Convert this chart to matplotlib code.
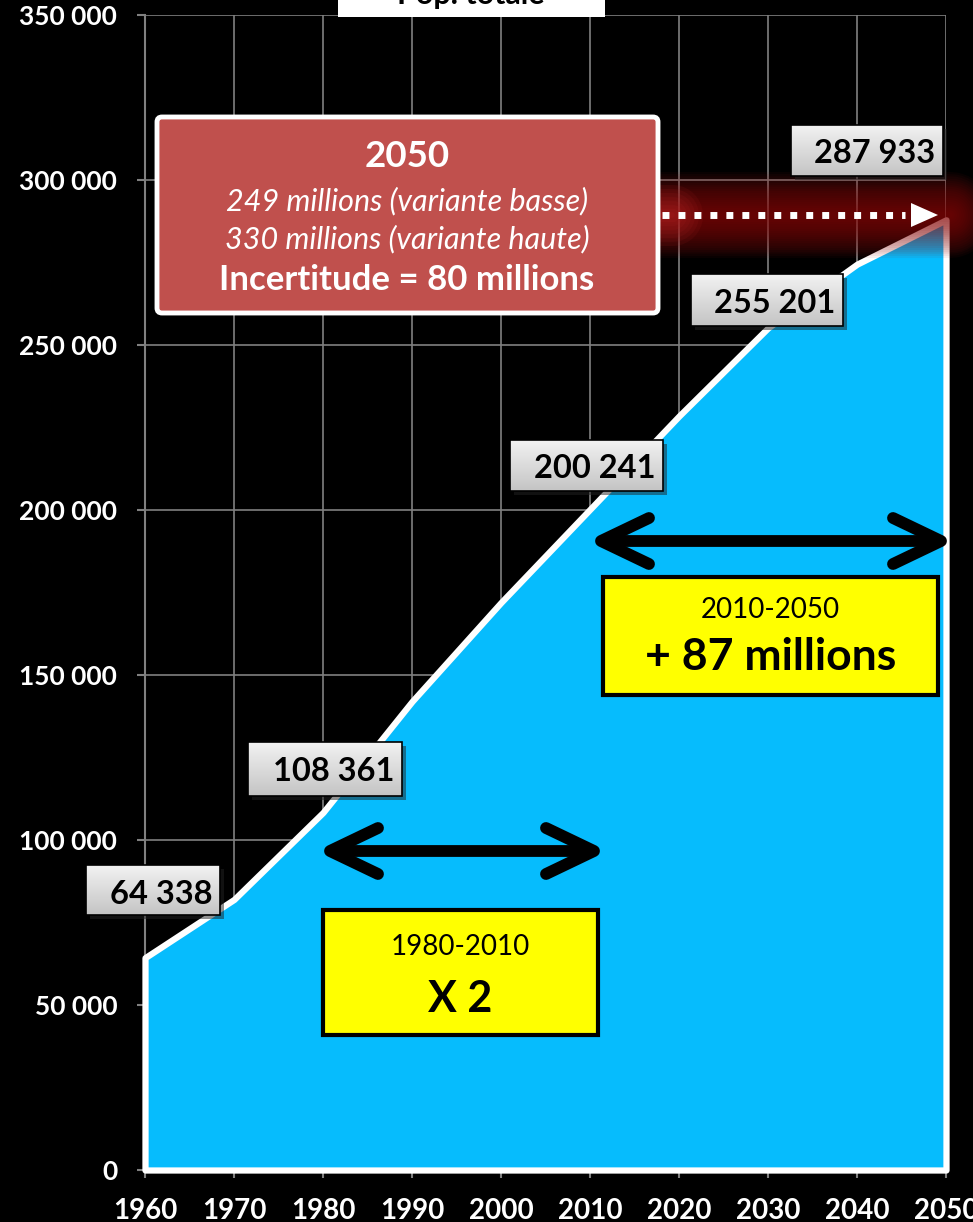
import matplotlib
matplotlib.use("Agg")
import numpy as np
import matplotlib.pyplot as plt
from matplotlib.patches import Rectangle, FancyBboxPatch, Polygon
from matplotlib.colors import LinearSegmentedColormap
from matplotlib.ticker import FuncFormatter

plt.rcParams["font.family"] = ["Lato", "DejaVu Sans"]

# Population totale (milliers)
years = [1960, 1970, 1980, 1990, 2000, 2010, 2020, 2030, 2040, 2050]
pop = [64338, 82000, 108361, 142000, 172000, 200241, 228500, 255201, 274500, 287933]
labelled_years = [1960, 1980, 2010, 2030, 2050]
x_ticks = list(range(1960, 2051, 10))
y_ticks = list(range(0, 350001, 50000))

W, H = 973, 1222
BLUE = "#06BCFD"
GRID = "#808080"

fig = plt.figure(figsize=(W / 100, H / 100), dpi=100, facecolor="black")
ax = fig.add_axes([145 / W, 1 - 1170 / H, (946 - 145) / W, (1170 - 15) / H])
ax.set_facecolor("black")
ax.set_xlim(1960, 2050)
ax.set_ylim(0, 350000)

ax.fill_between(years, pop, 0, facecolor=BLUE, edgecolor="white",
                linewidth=4.5, zorder=3, clip_on=False)

ax.set_xticks(x_ticks)
ax.set_yticks(y_ticks)
ax.yaxis.set_major_formatter(FuncFormatter(lambda v, _: f"{int(v):,}".replace(",", " ")))
ax.grid(True, color=GRID, linewidth=1.2, zorder=0)
ax.set_axisbelow(True)
for side in ("top", "right"):
    ax.spines[side].set_visible(False)
for side in ("left", "bottom"):
    ax.spines[side].set_color(GRID)
    ax.spines[side].set_linewidth(1.5)
ax.tick_params(axis="both", colors=GRID, direction="out", length=6, width=1.5)
ax.tick_params(axis="y", labelcolor="white", labelsize=19, pad=14)
ax.tick_params(axis="x", labelcolor="white", labelsize=20, pad=14)
for lbl in ax.get_xticklabels() + ax.get_yticklabels():
    lbl.set_fontweight("bold")

# calque d'annotations en pixels (origine en haut a gauche)
ov = fig.add_axes([0, 0, 1, 1], zorder=5)
ov.axis("off")
ov.patch.set_alpha(0)

# titre tronque
ov.add_patch(Rectangle((338, -40), 267, 57, facecolor="white", edgecolor="none"))
ov.text(471, 4, "Pop. totale", ha="center", va="baseline", fontsize=22,
        fontweight="bold", color="black")

# etiquettes de valeurs (degrade gris)
grey = LinearSegmentedColormap.from_list("grey", ["#F2F2F2", "#C4C4C4"])
grad = np.linspace(0, 1, 64).reshape(-1, 1)
label_boxes = {
    1960: (86, 865, 220, 915, 904),
    1980: (248, 742, 402, 796, 781),
    2010: (510, 440, 663, 491, 478),
    2030: (691, 274, 843, 326, 313),
    2050: (791, 125, 943, 176, 163),
}
for yr in labelled_years:
    x0, y0, x1, y1, base = label_boxes[yr]
    val = pop[years.index(yr)]
    ov.add_patch(Rectangle((x0 + 4, y0 + 4), x1 - x0, y1 - y0, facecolor="#222222",
                           edgecolor="none", alpha=0.5, zorder=2))
    ov.imshow(grad, cmap=grey, aspect="auto", extent=(x0, x1, y1, y0),
              interpolation="bilinear", zorder=2.5)
    ov.add_patch(Rectangle((x0, y0), x1 - x0, y1 - y0, facecolor="none",
                           edgecolor="black", linewidth=1.2, zorder=3))
    ov.text(x1 - 8, base, f"{val:,}".replace(",", " "), ha="right", va="baseline",
            fontsize=23.5, fontweight="bold", color="black", zorder=4)
ov.set_xlim(0, W)
ov.set_ylim(H, 0)

# lueur rouge + fleche pointillee
for lw in np.linspace(62, 4, 20):
    ov.plot([650, 950], [215, 215], color="#8E1212", linewidth=lw, alpha=0.065,
            solid_capstyle="round", zorder=1)
for lw in np.linspace(44, 4, 8):
    ov.plot([655, 672], [215, 215], color="#D03030", linewidth=lw, alpha=0.08,
            solid_capstyle="round", zorder=1)
ov.plot([662, 905], [215, 215], color="white", linewidth=5,
        linestyle=(0, (1, 1.3)), dash_capstyle="butt", zorder=3)
ov.add_patch(Polygon([[911, 203], [938, 215], [911, 227]], closed=True,
                     facecolor="white", edgecolor="none", zorder=3))

# encadre rouge
ov.add_patch(FancyBboxPatch((157, 117), 501, 196, boxstyle="round,pad=0,rounding_size=5",
                            facecolor="#C0504D", edgecolor="white", linewidth=3.5, zorder=2))
ov.text(407, 167, "2050", ha="center", va="baseline", fontsize=26.5,
        fontweight="bold", color="white", zorder=4)
ov.text(407, 210, "249 millions (variante basse)", ha="center", va="baseline",
        fontsize=22, style="italic", color="white", zorder=4)
ov.text(407, 248, "330 millions (variante haute)", ha="center", va="baseline",
        fontsize=22, style="italic", color="white", zorder=4)
ov.text(407, 290, "Incertitude = 80 millions", ha="center", va="baseline",
        fontsize=25, fontweight="bold", color="white", zorder=4)


def double_arrow(xl, xr, y, arm_dx=48, arm_dy=23):
    kw = dict(color="black", linewidth=8.5, solid_capstyle="round",
              solid_joinstyle="round", zorder=4)
    ov.plot([xl + 4, xr - 4], [y, y], **kw)
    ov.plot([xl + arm_dx, xl, xl + arm_dx], [y - arm_dy, y, y + arm_dy], **kw)
    ov.plot([xr - arm_dx, xr, xr - arm_dx], [y - arm_dy, y, y + arm_dy], **kw)


double_arrow(330, 594, 851)
double_arrow(601, 941, 541)

# encadres jaunes
yellow_boxes = [
    ((323, 910, 598, 1035), "1980-2010", "X 2", 955, 1012, 31),
    ((603, 577, 938, 695), "2010-2050", "+ 87 millions", 618, 670, 32),
]
for (x0, y0, x1, y1), top, big, b1, b2, fs in yellow_boxes:
    ov.add_patch(Rectangle((x0, y0), x1 - x0, y1 - y0, facecolor="#FFFF00",
                           edgecolor="black", linewidth=3, zorder=4))
    cx = (x0 + x1) / 2
    ov.text(cx, b1, top, ha="center", va="baseline", fontsize=20,
            color="black", zorder=5)
    ov.text(cx, b2, big, ha="center", va="baseline", fontsize=fs,
            fontweight="bold", color="black", zorder=5)

ov.set_xlim(0, W)
ov.set_ylim(H, 0)

fig.savefig("out.png", dpi=100, facecolor="black")
